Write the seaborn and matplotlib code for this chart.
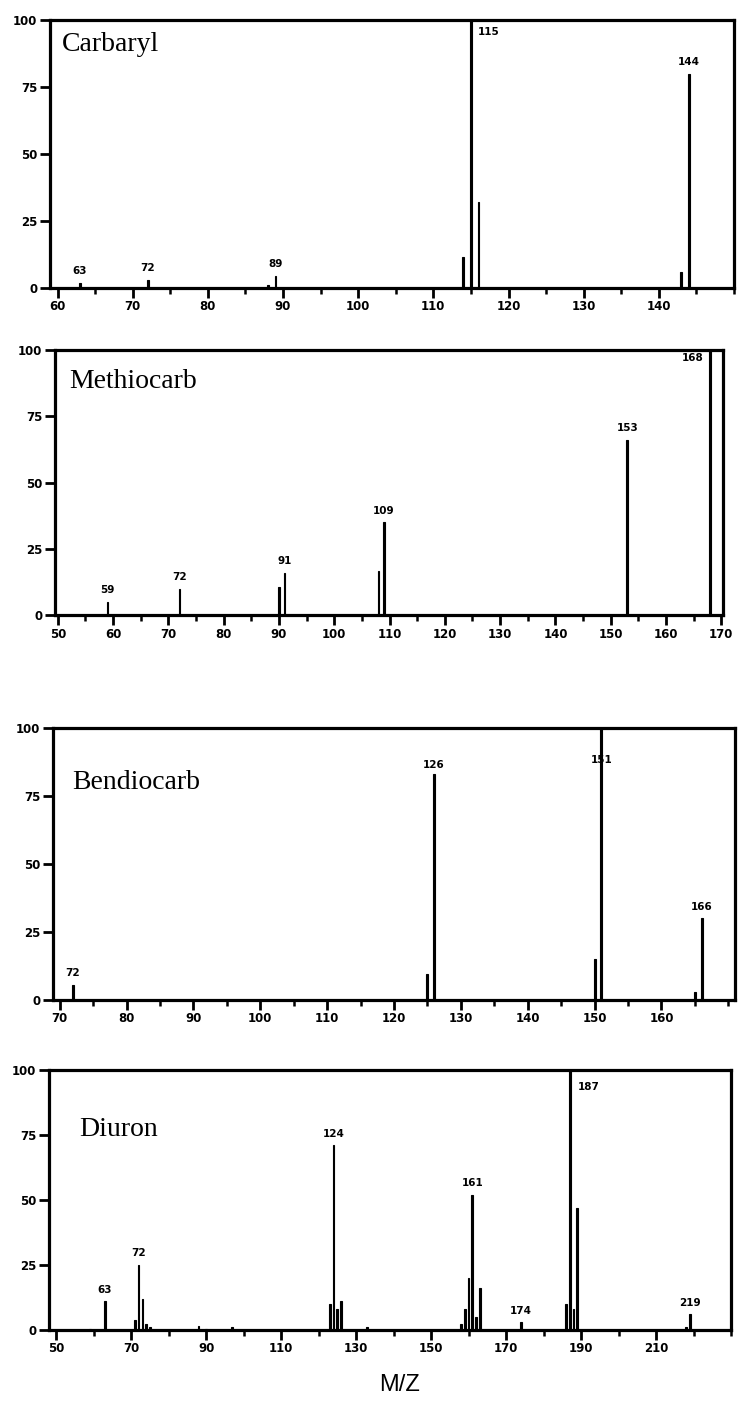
import numpy as np
import pandas as pd
import matplotlib
matplotlib.use("Agg")
import matplotlib.pyplot as plt
import matplotlib.transforms as mtransforms
import seaborn as sns

# ---------------- data ----------------
carbaryl_mz = [63, 72, 88, 89, 114, 115, 116, 143, 144]
carbaryl_int = [2, 3, 1, 4.5, 11.5, 100, 32, 6, 80]
carbaryl_labels = {63: "63", 72: "72", 89: "89", 115: "115", 144: "144"}

methiocarb_mz = [59, 72, 90, 91, 108, 109, 153, 168]
methiocarb_int = [5, 10, 10.5, 16, 16.5, 35, 66, 100]
methiocarb_labels = {59: "59", 72: "72", 91: "91", 109: "109", 153: "153", 168: "168"}

bendiocarb_mz = [72, 125, 126, 150, 151, 165, 166]
bendiocarb_int = [5.5, 9.5, 83, 15, 100, 3, 30]
bendiocarb_labels = {72: "72", 126: "126", 151: "151", 166: "166"}

diuron_mz = [59, 63, 71, 72, 73, 74, 75, 88, 90, 97, 123, 124, 125, 126, 133,
             158, 159, 160, 161, 162, 163, 174, 186, 187, 188, 189, 218, 219]
diuron_int = [0.5, 11, 4, 25, 12, 2.5, 1, 1.5, 0.5, 1, 10, 71, 8, 11, 1,
              2.5, 8, 20, 52, 5, 16, 3, 10, 100, 8, 47, 1, 6]
diuron_labels = {63: "63", 72: "72", 124: "124", 161: "161", 174: "174", 187: "187", 219: "219"}

names = ["Carbaryl", "Methiocarb", "Bendiocarb", "Diuron"]
y_ticks = [0, 25, 50, 75, 100]
x_major_ticks = [
    [60, 70, 80, 90, 100, 110, 120, 130, 140],
    [50, 60, 70, 80, 90, 100, 110, 120, 130, 140, 150, 160, 170],
    [70, 80, 90, 100, 110, 120, 130, 140, 150, 160],
    [50, 70, 90, 110, 130, 150, 170, 190, 210],
]
x_minor_ticks = [
    [65, 75, 85, 95, 105, 115, 125, 135, 145, 150],
    [55, 65, 75, 85, 95, 105, 115, 125, 135, 145, 155, 165],
    [75, 85, 95, 105, 115, 125, 135, 145, 155, 165, 170],
    [60, 80, 100, 120, 140, 160, 180, 200, 220, 230],
]
x_label = "M/Z"

# ---------------- style ----------------
sns.set_style("ticks")
plt.rcParams["font.family"] = ["Liberation Sans", "DejaVu Sans"]
plt.rcParams["text.color"] = "black"
plt.rcParams["xtick.color"] = "black"
plt.rcParams["ytick.color"] = "black"
plt.rcParams["axes.edgecolor"] = "black"

W, H = 739, 1402
fig = plt.figure(figsize=(W / 100, H / 100), dpi=100)

# panel boxes in pixels: left, right, top, bottom
boxes = [(50, 734, 20, 288), (55, 723, 350, 615), (53, 735, 728, 1000), (49, 731, 1070, 1330)]
xlims = [(59, 150), (49.5, 170.3), (69, 171), (48.1, 230)]
title_pos = [(0.018, 88.5), (0.022, 85.5), (0.028, 77.5), (0.044, 74.5)]
bar_w = [0.25, 0.33, 0.28, 0.45]

datasets = [
    (carbaryl_mz, carbaryl_int, carbaryl_labels),
    (methiocarb_mz, methiocarb_int, methiocarb_labels),
    (bendiocarb_mz, bendiocarb_int, bendiocarb_labels),
    (diuron_mz, diuron_int, diuron_labels),
]

# special label placements (offset dx in m/z, y, ha)
special = {
    (0, 115): (0.9, 93.5, "left"),
    (1, 168): (-1.2, 95, "right"),
    (2, 151): (0, 86.5, "center"),
    (2, 126): (0, 84.5, "center"),
    (3, 187): (2.2, 91.5, "left"),
}

tick_font = dict(fontsize=8.5, fontweight="bold", family="DejaVu Sans", color="black")
ann_font = dict(fontsize=7.5, fontweight="bold", family="DejaVu Sans", color="black")

for i, (mz, inten, labels) in enumerate(datasets):
    l, r, t, b = boxes[i]
    ax = fig.add_axes([l / W, (H - b) / H, (r - l) / W, (b - t) / H])
    df = pd.DataFrame({"mz": mz, "intensity": inten})
    sns.barplot(data=df, x="mz", y="intensity", native_scale=True, color="black",
                width=bar_w[i], errorbar=None, linewidth=0.8, edgecolor="black",
                ax=ax, saturation=1)
    ax.set_xlim(*xlims[i])
    ax.set_ylim(0, 100)
    ax.set_xlabel("")
    ax.set_ylabel("")
    ax.set_xticks(x_major_ticks[i])
    ax.set_xticklabels([str(v) for v in x_major_ticks[i]], **tick_font)
    ax.set_xticks(x_minor_ticks[i], minor=True)
    ax.set_yticks(y_ticks)
    ax.set_yticklabels([str(v) for v in y_ticks], **tick_font)
    ax.tick_params(axis="both", which="major", direction="out", length=7, width=2, pad=2, color="black")
    ax.tick_params(axis="x", which="minor", direction="out", length=4, width=1.8, color="black")
    ax.tick_params(axis="y", which="minor", length=0)
    for s in ax.spines.values():
        s.set_linewidth(2.3)
        s.set_color("black")
    ax.set_facecolor("white")
    # title
    ax.text(title_pos[i][0], title_pos[i][1], names[i],
            transform=mtransforms.blended_transform_factory(ax.transAxes, ax.transData),
            fontsize=20, family=["Liberation Serif", "DejaVu Serif"], va="baseline", ha="left",
            color="black")
    # peak labels
    for m, v in zip(mz, inten):
        if m in labels:
            if (i, m) in special:
                dx, yy, ha = special[(i, m)]
                ax.text(m + dx, yy, labels[m], ha=ha, va="bottom", **ann_font)
            else:
                ax.text(m, v + 2.5, labels[m], ha="center", va="bottom", **ann_font)

fig.text(400 / W, 1 - 1385 / H, x_label, ha="center", va="center", fontsize=17,
         family=["Liberation Sans", "DejaVu Sans"], color="black")

fig.savefig("out.png", dpi=100, facecolor="white")
